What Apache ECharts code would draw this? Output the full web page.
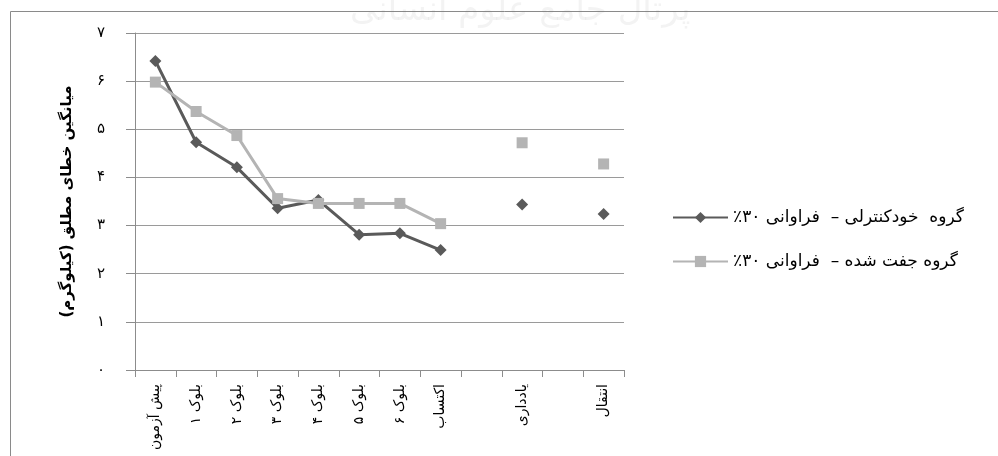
<!DOCTYPE html>
<html>
<head>
<meta charset="utf-8">
<script src="https://cdn.jsdelivr.net/npm/echarts@6/dist/echarts.min.js"></script>
<style>
  html, body { margin: 0; padding: 0; background: #fff; }
  #chart { width: 998px; height: 456px; direction: rtl; }
</style>
</head>
<body>
<div id="chart"></div>
<script>
// Phases of practice; the blank slots keep retention and transfer apart from acquisition
const categories = ['پیش آزمون', 'بلوک ۱', 'بلوک ۲', 'بلوک ۳', 'بلوک ۴', 'بلوک ۵', 'بلوک ۶', 'اکتساب', '', 'یادداری', '', 'انتقال'];

// Mean absolute error (kg) per group
const selfControl = [6.42, 4.73, 4.21, 3.36, 3.53, 2.81, 2.84, 2.49, null, 3.44, null, 3.24];
const yoked       = [5.98, 5.37, 4.87, 3.56, 3.46, 3.46, 3.46, 3.04, null, 4.72, null, 4.28];

const seriesNames = ['گروه  خودکنترلی –  فراوانی ۳۰٪', 'گروه جفت شده –  فراوانی ۳۰٪'];
const yTitle = 'میانگین خطای مطلق (کیلوگرم)';
const yTicks = [0, 1, 2, 3, 4, 5, 6, 7];

const faDigits = '۰۱۲۳۴۵۶۷۸۹';
const toFa = v => String(v).replace(/[0-9]/g, d => faDigits[+d]);

const FONT = "'DejaVu Sans', sans-serif";

const chart = echarts.init(document.getElementById('chart'), null, { renderer: 'canvas' });

chart.setOption({
  animation: false,
  backgroundColor: '#ffffff',
  textStyle: { fontFamily: FONT },
  graphic: [
    {
      type: 'rect',
      silent: true,
      z: -10,
      shape: { x: 10.5, y: 11.5, width: 1000, height: 500 },
      style: { fill: 'none', stroke: '#8a8a8a', lineWidth: 1 }
    },
    {
      type: 'text',
      silent: true,
      z: 100,
      left: 350,
      top: -6,
      style: {
        text: 'پرتال جامع علوم انسانی',
        font: "34px 'DejaVu Sans', sans-serif",
        fill: 'rgba(120,120,120,0.09)'
      }
    }
  ],
  grid: { left: 135, right: 374, top: 33, bottom: 86, containLabel: false },
  legend: {
    orient: 'vertical',
    left: 667,
    top: 204,
    itemWidth: 55,
    itemHeight: 14,
    itemGap: 27,
    textStyle: { fontFamily: FONT, fontSize: 17, color: '#000' },
    data: seriesNames
  },
  xAxis: {
    type: 'category',
    data: categories,
    boundaryGap: true,
    axisLine: { lineStyle: { color: '#8c8c8c', width: 1 } },
    axisTick: { show: true, length: 7, interval: 0, lineStyle: { color: '#8c8c8c' } },
    axisLabel: {
      interval: 0,
      rotate: 90,
      margin: 14,
      fontFamily: FONT,
      fontSize: 14,
      color: '#000'
    },
    splitLine: { show: false }
  },
  yAxis: {
    type: 'value',
    min: yTicks[0],
    max: yTicks[yTicks.length - 1],
    interval: 1,
    name: yTitle,
    nameLocation: 'middle',
    nameRotate: 90,
    nameGap: 60,
    nameTextStyle: { fontFamily: FONT, fontSize: 15, fontWeight: 'bold', color: '#000' },
    axisLine: { show: true, lineStyle: { color: '#8c8c8c', width: 1 } },
    axisTick: { show: true, length: 9, inside: false, lineStyle: { color: '#8c8c8c' } },
    axisLabel: {
      margin: 30,
      fontFamily: FONT,
      fontSize: 15,
      color: '#000',
      formatter: v => toFa(v)
    },
    splitLine: { show: true, lineStyle: { color: '#9a9a9a', width: 1 } }
  },
  series: [
    {
      name: seriesNames[0],
      type: 'line',
      data: selfControl,
      connectNulls: false,
      symbol: 'diamond',
      symbolSize: 12,
      showAllSymbol: true,
      lineStyle: { color: '#5a5a5a', width: 3 },
      itemStyle: { color: '#5a5a5a', borderWidth: 0 },
      z: 2
    },
    {
      name: seriesNames[1],
      type: 'line',
      data: yoked,
      connectNulls: false,
      symbol: 'rect',
      symbolSize: 11,
      showAllSymbol: true,
      lineStyle: { color: '#b4b4b4', width: 3 },
      itemStyle: { color: '#b4b4b4', borderWidth: 0 },
      z: 3
    }
  ]
});
</script>
</body>
</html>
